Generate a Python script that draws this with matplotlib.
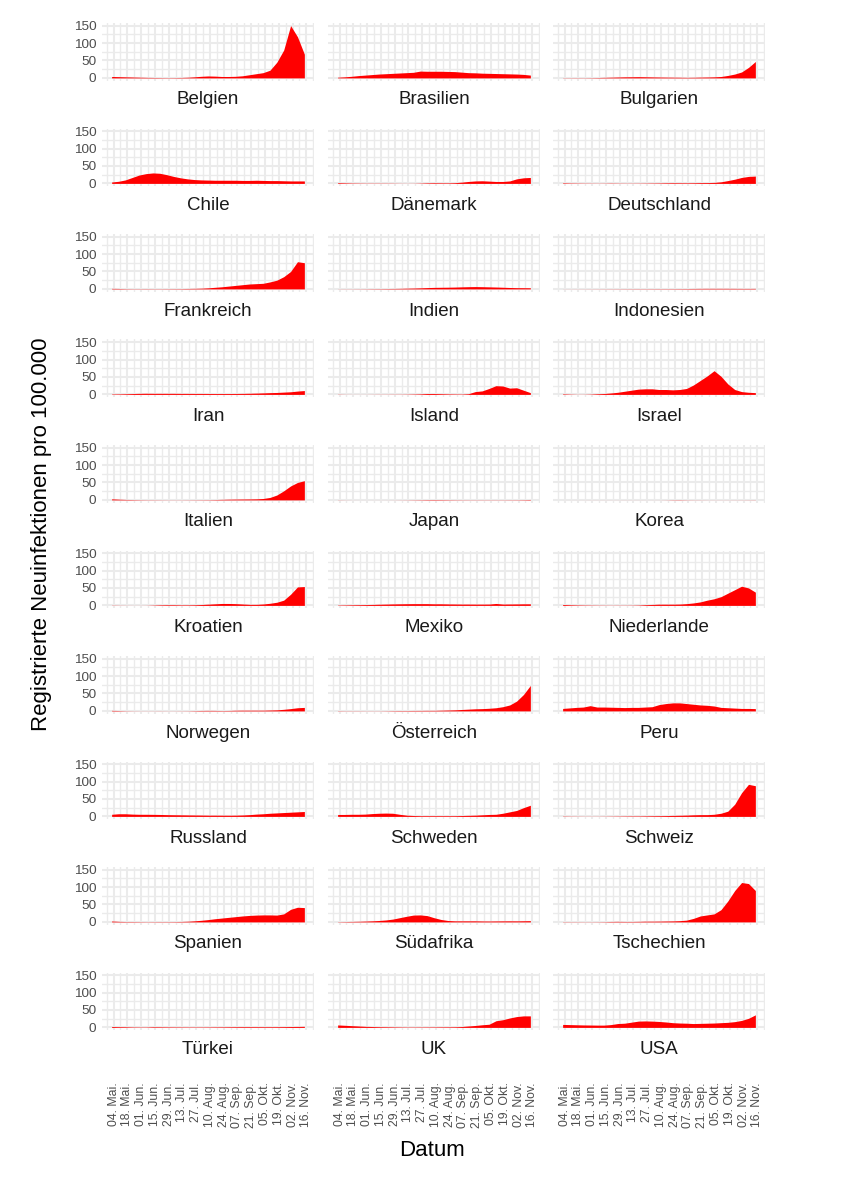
import pandas as pd
import matplotlib
matplotlib.use("Agg")
import matplotlib.pyplot as plt

plt.rcParams['font.family'] = ['Liberation Sans', 'DejaVu Sans']

# weekly sample dates (7-day average of new infections per 100.000)
dates = pd.date_range("2020-05-02", periods=29, freq="7D")

countries = ["Belgien", "Brasilien", "Bulgarien", "Chile", "Dänemark", "Deutschland",
             "Frankreich", "Indien", "Indonesien", "Iran", "Island", "Israel",
             "Italien", "Japan", "Korea", "Kroatien", "Mexiko", "Niederlande",
             "Norwegen", "Österreich", "Peru", "Russland", "Schweden", "Schweiz",
             "Spanien", "Südafrika", "Tschechien", "Türkei", "UK", "USA"]

belgien = [4, 3.5, 3, 2.5, 2, 1.5, 1.2, 1, 0.8, 0.9, 1.2, 1.8, 3, 4.5, 5.5, 5, 4, 4, 4.5, 6, 9, 12, 15, 22, 45, 80, 150, 118, 68]
brasilien = [2, 3, 4.5, 6.5, 8, 9.5, 11, 12, 13, 14, 15, 16, 19.5, 19, 19, 19, 18.5, 18, 16.5, 15, 14.5, 13.5, 13, 12.5, 12, 11.5, 11, 10, 8]
bulgarien = [0.5, 0.5, 0.6, 0.5, 0.7, 1, 1.5, 2, 2.5, 3, 3.2, 3.5, 3.2, 2.8, 2.5, 2.2, 2, 1.8, 1.5, 1.7, 2.2, 2.5, 3, 4, 7, 11, 17, 30, 47]
chile = [4, 6, 10, 17, 24, 28, 30, 29, 25, 20, 16, 13, 11, 10, 9.5, 9, 9, 9, 9, 8.5, 8.5, 9, 8.5, 8, 8, 7.5, 7, 7, 7]
daenemark = [2, 1.5, 1, 0.8, 0.6, 0.6, 0.6, 0.6, 0.5, 0.3, 0.2, 0.3, 0.8, 1.5, 1.8, 1.6, 1.5, 2, 3.5, 5.5, 7, 7.5, 6.5, 5.5, 5.5, 7, 13, 16, 17]
deutschland = [1.5, 1, 0.8, 0.6, 0.5, 0.4, 0.5, 0.8, 0.6, 0.5, 0.5, 0.6, 0.8, 1, 1.2, 1.6, 1.8, 1.7, 1.6, 1.8, 2.2, 2.3, 2.8, 4.5, 8, 12, 17, 20, 21]
frankreich = [1.5, 1.2, 0.8, 0.6, 0.6, 0.7, 0.6, 0.6, 0.7, 0.8, 0.9, 1.2, 1.5, 2, 3, 4.5, 6, 8, 10, 12, 14, 15, 16, 20, 25, 35, 50, 78, 75]
indien = [0.2, 0.3, 0.3, 0.4, 0.5, 0.7, 0.8, 1, 1.2, 1.5, 2, 2.4, 3, 3.7, 4.3, 4.6, 4.8, 5.2, 5.8, 6.3, 6.6, 6.3, 5.8, 5.3, 4.7, 4, 3.5, 3.4, 3.2]
indonesien = [0.12, 0.15, 0.18, 0.2, 0.25, 0.3, 0.35, 0.4, 0.45, 0.5, 0.55, 0.6, 0.6, 0.65, 0.7, 0.75, 0.8, 0.9, 1, 1.2, 1.4, 1.5, 1.5, 1.5, 1.5, 1.4, 1.3, 1.3, 1.4]
iran = [1.2, 1.4, 1.9, 2.4, 2.9, 3.2, 3, 3, 3, 3, 2.8, 2.8, 2.7, 2.7, 2.6, 2.5, 2.5, 2.5, 2.6, 2.8, 3.2, 3.7, 4.3, 5, 5.5, 6.5, 7.5, 9.5, 11]
island = [0.5, 0.2, 0.1, 0.1, 0.1, 0.2, 0.3, 0.3, 0.4, 0.4, 0.6, 1, 1.5, 2.5, 2.5, 2, 1.5, 1.2, 1, 2, 8, 10, 17, 25, 24, 18, 19, 12, 5]
israel = [1.5, 0.8, 0.3, 0.3, 0.8, 1.8, 2.5, 4, 6, 9, 12, 15, 16, 16, 14, 14, 13, 14, 17, 27, 40, 53, 68, 52, 30, 14, 8, 6, 5]
italien = [3, 2, 1.3, 1, 0.7, 0.5, 0.5, 0.4, 0.3, 0.3, 0.3, 0.4, 0.5, 0.6, 0.7, 1, 1.5, 2, 2.3, 2.5, 2.7, 3, 4, 7, 14, 26, 40, 50, 55]
japan = [0.3, 0.15, 0.05, 0.03, 0.03, 0.03, 0.04, 0.06, 0.1, 0.2, 0.3, 0.5, 0.7, 1, 1.1, 1, 0.8, 0.6, 0.5, 0.45, 0.45, 0.45, 0.45, 0.45, 0.45, 0.55, 0.6, 0.8, 1.2]
korea = [0.02, 0.02, 0.03, 0.04, 0.08, 0.08, 0.08, 0.07, 0.07, 0.1, 0.08, 0.08, 0.06, 0.06, 0.07, 0.2, 0.5, 0.6, 0.35, 0.25, 0.22, 0.15, 0.14, 0.13, 0.14, 0.18, 0.2, 0.25, 0.35]
kroatien = [0.5, 0.3, 0.2, 0.1, 0.1, 0.2, 0.8, 1.5, 1.8, 1.8, 1.5, 1.5, 1.8, 2.5, 3.5, 4.5, 5.5, 5.5, 5, 4, 3, 3, 4, 6, 9, 15, 32, 53, 54]
mexiko = [1, 1.3, 1.7, 2, 2.3, 2.7, 3.3, 3.7, 4.2, 4.5, 4.8, 5, 5, 5, 4.5, 4.6, 4.2, 4, 3.8, 3.8, 3.7, 3.7, 3.8, 5.5, 3.8, 4, 4.2, 4.5, 4.5]
niederlande = [2.5, 1.8, 1.3, 1, 0.8, 0.6, 0.5, 0.4, 0.5, 0.5, 0.6, 1, 2, 2.7, 3.5, 3.5, 3.5, 3.8, 5, 7, 10, 15, 19, 25, 35, 45, 55, 50, 38]
norwegen = [1.5, 1, 0.5, 0.3, 0.2, 0.2, 0.2, 0.3, 0.2, 0.2, 0.3, 0.4, 0.8, 1.2, 1.4, 1.3, 1, 1.2, 1.8, 2, 2, 2, 2, 2.5, 3, 4.5, 6.5, 9, 10]
oesterreich = [0.6, 0.4, 0.4, 0.4, 0.3, 0.3, 0.3, 0.5, 0.8, 1, 1, 1.2, 1.3, 1.5, 1.5, 2, 2.5, 3, 4, 5, 6, 6.5, 7.5, 9, 12, 17, 28, 47, 73]
peru = [7, 8.5, 10, 11, 15, 11, 11, 10.5, 10, 9.5, 10, 10, 11, 12, 18, 21, 23, 23, 21, 19, 17, 16, 14, 10, 9, 8, 7, 7, 6.5]
russland = [6, 7.5, 7.5, 6.5, 6, 6, 5.8, 5.5, 5, 4.7, 4.5, 4.2, 4, 3.8, 3.5, 3.5, 3.4, 3.3, 3.5, 4, 5, 6.5, 7.5, 9, 10, 11, 12, 13, 14]
schweden = [5.5, 5.5, 6, 6, 6.5, 8, 9, 9.5, 9, 6, 3.5, 2.5, 2, 2, 2, 2, 2, 2, 2.5, 3, 3.5, 4.5, 5.5, 6, 9, 13, 17, 25, 32]
schweiz = [0.8, 0.5, 0.4, 0.3, 0.3, 0.3, 0.4, 0.6, 0.8, 1, 1.2, 1.2, 1.5, 1.8, 2, 2.3, 2.8, 3.2, 3.7, 4.5, 5, 5, 6, 9, 15, 35, 68, 92, 88]
spanien = [2.5, 1.5, 1, 1, 0.8, 0.6, 0.7, 0.8, 0.8, 0.9, 1.2, 1.8, 3, 4.5, 6.5, 9, 11, 13, 15, 17, 18.5, 19.5, 20, 20, 19.5, 23, 36, 42, 41]
suedafrika = [0.6, 0.9, 1.3, 1.7, 2.3, 3, 4, 5.5, 8, 12, 16, 19.5, 20, 18, 12, 7, 4, 3, 3, 3, 3, 2.6, 2.5, 2.7, 2.9, 3, 2.9, 3.2, 3.5]
tschechien = [0.6, 0.5, 0.5, 0.4, 0.4, 0.5, 0.7, 1.2, 1.5, 1.2, 1.2, 1.5, 2, 2, 2.2, 2.5, 2.8, 3.5, 5, 10, 17, 20, 23, 35, 60, 90, 113, 110, 90]
tuerkei = [2.5, 2, 1.8, 1.2, 1, 1, 1.7, 1.6, 1.4, 1.3, 1.2, 1.1, 1.1, 1.1, 1.2, 1.4, 1.5, 1.7, 1.9, 2, 2, 2, 1.9, 1.9, 2, 2.2, 2.5, 2.7, 3]
uk = [7, 6, 5, 4, 3, 2.5, 2, 1.8, 1.5, 1.2, 1, 1, 1.1, 1.2, 1.3, 1.5, 1.6, 1.8, 2.5, 4, 5.5, 7.5, 9, 19, 22, 27, 31, 33, 33]
usa = [8.5, 8, 7.5, 7, 6.8, 6.5, 6.5, 8, 11, 12, 15, 18, 18.5, 18, 17, 15.5, 13.5, 12.5, 12, 11, 11.5, 12, 12.5, 13.5, 14.5, 16.5, 20, 26, 36]

series = [belgien, brasilien, bulgarien, chile, daenemark, deutschland,
          frankreich, indien, indonesien, iran, island, israel,
          italien, japan, korea, kroatien, mexiko, niederlande,
          norwegen, oesterreich, peru, russland, schweden, schweiz,
          spanien, suedafrika, tschechien, tuerkei, uk, usa]

tick_dates = pd.date_range("2020-05-04", periods=15, freq="14D")
tick_labels = ["04. Mai.", "18. Mai.", "01. Jun.", "15. Jun.", "29. Jun.", "13. Jul.",
               "27. Jul.", "10. Aug.", "24. Aug.", "07. Sep.", "21. Sep.", "05. Okt.",
               "19. Okt.", "02. Nov.", "16. Nov."]
minor_dates = pd.date_range("2020-04-27", periods=16, freq="14D")

W, H = 855, 1200
fig = plt.figure(figsize=(W / 100, H / 100), dpi=100)

col_left = [102, 328, 553]
panel_w = 212
panel_h = 57.5
row_step = 105.5

ymax = max(max(s) for s in series)
span = dates[-1] - dates[0]
xpad = span * 0.05

for i, (name, vals) in enumerate(zip(countries, series)):
    r, c = divmod(i, 3)
    top = 23 + row_step * r
    ax = fig.add_axes([col_left[c] / W, 1 - (top + panel_h) / H, panel_w / W, panel_h / H])
    ax.fill_between(dates, vals, color="#FF0000", linewidth=0)

    ax.set_xlim(dates[0] - xpad, dates[-1] + xpad)
    ax.set_ylim(-0.05 * ymax, 1.05 * ymax)
    ax.set_xticks(tick_dates)
    ax.set_xticks(minor_dates, minor=True)
    ax.set_yticks([0, 50, 100, 150])
    ax.set_yticks([25, 75, 125], minor=True)
    ax.grid(which="major", color="#EBEBEB", linewidth=1.5)
    ax.grid(which="minor", color="#EBEBEB", linewidth=1.0)
    ax.set_axisbelow(True)
    for s in ax.spines.values():
        s.set_visible(False)
    ax.tick_params(which="both", length=0)

    if c == 0:
        ax.set_yticklabels(["0", "50", "100", "150"], fontsize=9.7, color="#4D4D4D")
        ax.tick_params(axis="y", pad=4)
    else:
        ax.set_yticklabels([])
    if r == 9:
        ax.set_xticklabels(tick_labels, rotation=90, fontsize=8.8, color="#4D4D4D")
        ax.tick_params(axis="x", pad=37.5)
    else:
        ax.set_xticklabels([])

    # facet strip below the panel
    fig.text((col_left[c] + panel_w / 2) / W, 1 - (top + panel_h + 24) / H, name,
             ha="center", va="baseline", fontsize=13.5, color="#1A1A1A")

fig.text(42 / W, 1 - 534 / H, "Registrierte Neuinfektionen pro 100.000",
         rotation=90, ha="center", va="center", fontsize=16)
fig.text(432 / W, 1 - 1156 / H, "Datum", ha="center", va="baseline", fontsize=16)

fig.savefig("out.png", dpi=100, facecolor="white")
